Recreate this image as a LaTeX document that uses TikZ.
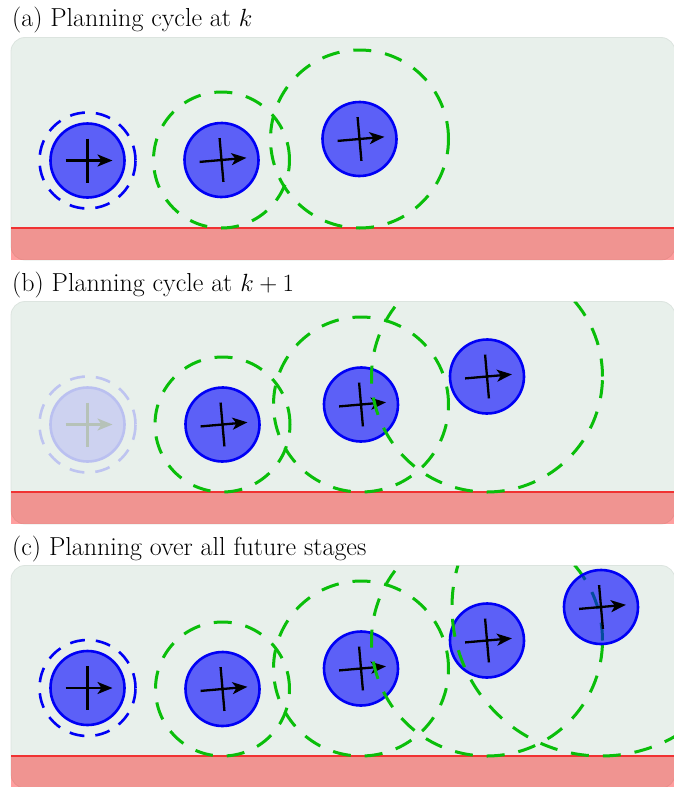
\documentclass[tikz,border=0pt]{standalone}
\usetikzlibrary{arrows.meta}
\definecolor{boxbg}{RGB}{232,240,235}
\definecolor{boxedge}{RGB}{220,228,223}
\definecolor{rline}{RGB}{240,50,50}
\definecolor{sgreen}{RGB}{10,190,10}
\definecolor{rblue}{RGB}{0,0,245}
\tikzset{
 panelbox/.style={fill=boxbg, draw=boxedge, line width=0.8pt, rounded corners=14pt},
 floor/.style={fill=red, fill opacity=0.38},
 floorline/.style={draw=rline, line width=2pt},
 rbody/.style={fill=blue, fill opacity=0.6, draw=rblue, line width=2.6pt},
 rcross/.style={draw=black, line width=2.3pt},
 rsafe/.style={draw=sgreen, line width=3pt, dash pattern=on 18pt off 14pt},
 rsafeblue/.style={draw=rblue, line width=2.6pt, dash pattern=on 15pt off 11pt},
 title/.style={anchor=base west, inner sep=0pt, font=\fontsize{26}{30}\selectfont},
 pics/robot/.style={code={
   \path[rbody] (0,0) circle[radius=37pt];
   \draw[rcross] (0,-22) -- (0,22);
   \draw[rcross, -{Stealth[length=15pt,width=12pt,inset=4pt]}] (-22,0) -- (25,0);
 }},
}
\newcommand\drawpanelbg{%
 \path[panelbox] (11,37.5) rectangle (675,260);
 \path[floor] (11,228) rectangle (675,260);
 \draw[floorline] (11,228) -- (675,228);
}
\newcommand\panelclip{\clip[rounded corners=14pt] (11,37.5) rectangle (675,260);}
\begin{document}
\begin{tikzpicture}[x=1pt,y=-1pt]
\useasboundingbox (0,0) rectangle (674,787);

% ---------- panel (a)
\node[title] (ta) at (12,27) {(a) Planning cycle at $k$};
\drawpanelbg
\begin{scope}
 \panelclip
 \path[rsafeblue] (87.5,160.5) circle[radius=48pt];
 \pic at (87.5,160.5) {robot};
 \path[rsafe] (221.5,160) circle[radius=68pt];
 \pic[rotate=5] at (221.5,160) {robot};
 \path[rsafe] (359.5,139) circle[radius=89pt];
 \pic[rotate=5] at (359.5,139) {robot};
\end{scope}

% ---------- panel (b)
\begin{scope}[shift={(0,264)}]
\node[title] (tb) at (12,27) {(b) Planning cycle at $k+1$};
\drawpanelbg
\begin{scope}
 \panelclip
 \begin{scope}[rsafeblue/.style={draw={rgb,255:red,190;green,196;blue,240}, line width=2.6pt, dash pattern=on 15pt off 11pt},
   rbody/.style={fill={rgb,255:red,205;green,210;blue,240}, draw={rgb,255:red,186;green,192;blue,240}, line width=2.6pt},
   rcross/.style={draw={rgb,255:red,182;green,194;blue,184}, line width=2.3pt}]
  \path[rsafeblue] (87.5,160.5) circle[radius=48pt];
  \pic at (87.5,160.5) {robot};
 \end{scope}
 \path[rsafe] (222.5,160.5) circle[radius=67.5pt];
 \pic[rotate=5] at (222.5,160.5) {robot};
 \path[rsafe] (361,140.5) circle[radius=87.5pt];
 \pic[rotate=5] at (361,140.5) {robot};
 \path[rsafe] (487,112.5) circle[radius=115.5pt];
 \pic[rotate=5] at (487,112.5) {robot};
\end{scope}
\end{scope}

% ---------- panel (c)
\begin{scope}[shift={(0,528)}]
\node[title] (tc) at (12,27) {(c) Planning over all future stages};
\drawpanelbg
\begin{scope}
 \panelclip
 \path[rsafeblue] (87.5,160) circle[radius=48pt];
 \pic at (87.5,160) {robot};
 \path[rsafe] (222.5,161) circle[radius=67pt];
 \pic[rotate=5] at (222.5,161) {robot};
 \path[rsafe] (361,140.5) circle[radius=87.5pt];
 \pic[rotate=5] at (361,140.5) {robot};
 \path[rsafe] (487,112.5) circle[radius=115.5pt];
 \pic[rotate=5] at (487,112.5) {robot};
 \path[rsafe] (601,79) circle[radius=149pt];
 \pic[rotate=5] at (601,79) {robot};
\end{scope}
\end{scope}
\end{tikzpicture}
\end{document}
